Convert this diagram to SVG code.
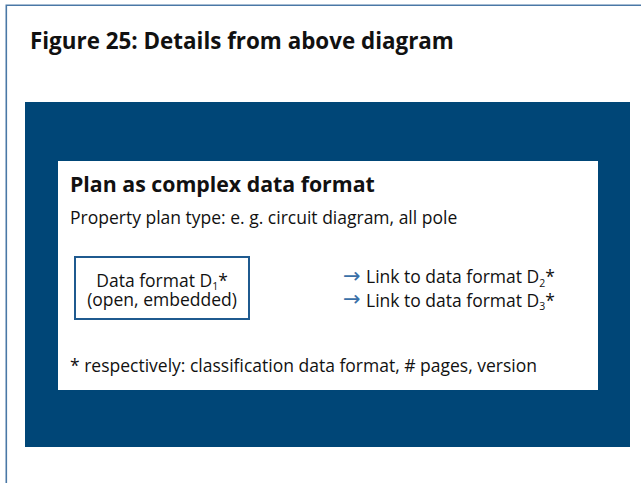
<svg xmlns="http://www.w3.org/2000/svg" width="641" height="483" viewBox="0 0 641 483">
<style>
  .t { font-family: "Open Sans", "Noto Sans", "Liberation Sans", sans-serif; fill: #111; }
  .title { font-size: 22.4px; font-weight: 700; }
  .head { font-size: 21.3px; font-weight: 700; }
  .body { font-size: 17.5px; }
  .sub { font-size: 10.5px; }
  .arr { font-family: "DejaVu Sans", sans-serif; font-size: 21px; fill: #3a70a8; }
</style>
<rect x="0" y="0" width="641" height="483" fill="#ffffff"/>
<g id="frame">
  <path d="M6.3 483 V5.3 H641" fill="none" stroke="#4a78a6" stroke-width="1.6"/>
</g>
<text class="t title" x="30" y="49.3">Figure 25: Details from above diagram</text>
<g id="panel">
  <rect x="25" y="102" width="605" height="345" fill="#004677"/>
  <rect x="58" y="161" width="540" height="229" fill="#ffffff"/>
  <text class="t head" x="70" y="192.3">Plan as complex data format</text>
  <text class="t body" x="70" y="223.7">Property plan type: e. g. circuit diagram, all pole</text>
  <text class="t body" x="70" y="372">* respectively: classification data format, # pages, version</text>
</g>
<g id="node-d1">
  <rect x="75" y="257" width="174" height="62" fill="#ffffff" stroke="#1f5a8f" stroke-width="2"/>
  <text class="t body" text-anchor="middle"><tspan x="162" y="286.7">Data format D<tspan class="sub" dy="3.5">1</tspan><tspan dy="-3.5">*</tspan></tspan><tspan x="162" y="306">(open, embedded)</tspan></text>
</g>
<g id="links">
  <text class="arr" x="343" y="283">→</text>
  <text class="arr" x="343" y="306.4">→</text>
  <text class="t body"><tspan x="366" y="283.3">Link to data format D<tspan class="sub" dy="3.5">2</tspan><tspan dy="-3.5">*</tspan></tspan><tspan x="366" y="306.7">Link to data format D<tspan class="sub" dy="3.5">3</tspan><tspan dy="-3.5">*</tspan></tspan></text>
</g>
</svg>
